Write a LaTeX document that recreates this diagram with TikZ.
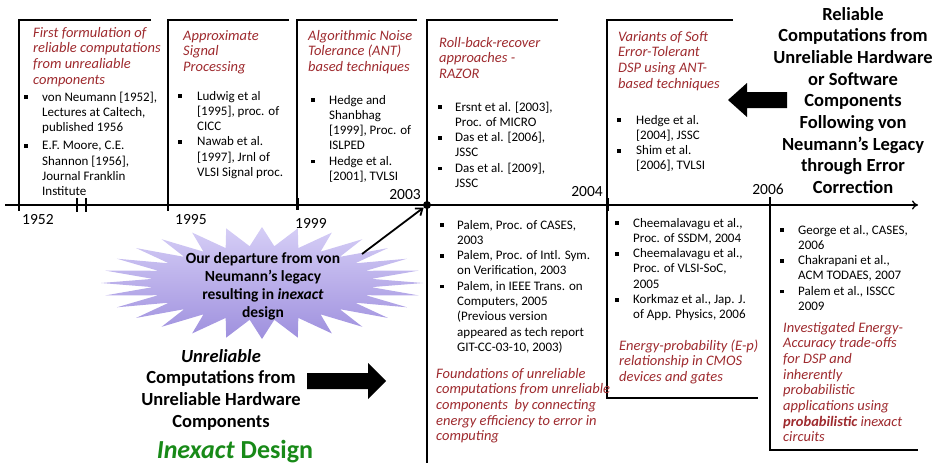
\documentclass[tikz,border=0pt]{standalone}
\usepackage{fontspec}
\setmainfont{Carlito}
\usetikzlibrary{arrows.meta}

\definecolor{titlered}{RGB}{158,42,46}
\definecolor{designgreen}{RGB}{24,138,24}
\definecolor{burstlight}{RGB}{214,206,246}
\definecolor{burstdark}{RGB}{158,144,222}

\newcommand{\bx}{\rule[1.8pt]{3.8pt}{3.8pt}}

\tikzset{
  boxline/.style={line width=1.3pt},
  yeartext/.style={inner sep=0pt, font=\fontsize{15.5}{18}\selectfont},
  reftext/.style={anchor=base west, inner sep=0pt, font=\fontsize{13}{15.3}\selectfont},
  headtext/.style={anchor=base west, inner sep=0pt, text=titlered, font=\fontsize{14.5}{15.7}\selectfont\itshape},
  bigtext/.style={anchor=base, inner sep=0pt, font=\fontsize{18.5}{21.7}\selectfont\bfseries},
  blockarrow/.style={fill=black},
}

\begin{document}
\begin{tikzpicture}[x=1pt,y=-1pt]
    \useasboundingbox (0,0) rectangle (936,463);
    % timeline and boxes
    \draw[boxline,-{To[length=6pt,width=9pt]}](5,205)--(918,205);
    \draw[boxline](151,20)--(19,20)--(19,211);
    \draw[boxline](289,20)--(168,20)--(168,211);
    \draw[boxline](417,20)--(297,20)--(297,205);
    \draw[boxline](558,20)--(427,20)--(427,463);
    \draw[boxline](733,20)--(607,20)--(607,398)--(758,398);
    \draw[boxline](770,197)--(770,450)--(918,450);
    \draw[line width=3pt](297,198)--(297,210);
    \draw[line width=3pt](607,198)--(607,211);
    \draw[line width=1.8pt](77,198)--(77,212) (86,198)--(86,212);
    \node[circle,fill,inner sep=0pt,minimum size=8pt] (d2003) at (427,205) {};

    % years
    \node[yeartext,anchor=base west] (y1952) at (22,224) {1952};
    \node[yeartext,anchor=base west] (y1995) at (175,224) {1995};
    \node[yeartext,anchor=base west] (y1999) at (295,228) {1999};
    \node[yeartext,anchor=base east] (y2003) at (421,199) {2003};
    \node[yeartext,anchor=base east] (y2004) at (603,196) {2004};
    \node[yeartext,anchor=base] (y2006) at (768,194) {2006};

    % upper boxes
    \node[headtext] (h1952) at (33,37) {\begin{tabular}[t]{@{}l@{}}First formulation of\\ reliable computations\\ from unrealiable\\ components\end{tabular}};
    \node[reftext] (r1952) at (24,101) {\begin{tabular}[t]{@{}p{18pt}@{}l@{}}
        \bx & von Neumann [1952],\\ & Lectures at Caltech,\\ & published 1956\\[3pt]
        \bx & E.F. Moore, C.E.\\ & Shannon [1956],\\ & Journal Franklin\\ & Institute\end{tabular}};
    \node[headtext] (h1995) at (183,40) {\begin{tabular}[t]{@{}l@{}}Approximate\\ Signal\\ Processing\end{tabular}};
    \node[reftext] (r1995) at (178,100) {\begin{tabular}[t]{@{}p{19pt}@{}l@{}}
        \bx & Ludwig et al\\ & [1995], proc. of\\ & CICC\\
        \bx & Nawab et al.\\ & [1997], Jrnl of\\ & VLSI Signal proc.\end{tabular}};
    \node[headtext] (h1999) at (308,40) {\begin{tabular}[t]{@{}l@{}}Algorithmic Noise\\ Tolerance (ANT)\\ based techniques\end{tabular}};
    \node[reftext] (r1999) at (311,104) {\begin{tabular}[t]{@{}p{18pt}@{}l@{}}
        \bx & Hedge and\\ & Shanbhag\\ & [1999], Proc. of\\ & ISLPED\\
        \bx & Hedge et al.\\ & [2001], TVLSI\end{tabular}};
    \node[headtext] (h2003) at (439,47) {\begin{tabular}[t]{@{}l@{}}Roll-back-recover\\ approaches -\\ RAZOR\end{tabular}};
    \node[reftext] (r2003) at (438,111) {\begin{tabular}[t]{@{}p{17pt}@{}l@{}}
        \bx & Ersnt et al. [2003],\\ & Proc. of MICRO\\
        \bx & Das et al. [2006],\\ & JSSC\\
        \bx & Das et al. [2009],\\ & JSSC\end{tabular}};
    \node[headtext] (h2004) at (618,41) {\begin{tabular}[t]{@{}l@{}}Variants of Soft\\ Error-Tolerant\\ DSP using ANT-\\ based techniques\end{tabular}};
    \node[reftext] (r2004) at (617,124) {\begin{tabular}[t]{@{}p{19pt}@{}l@{}}
        \bx & Hedge et al.\\ & [2004], JSSC\\
        \bx & Shim et al.\\ & [2006], TVLSI\end{tabular}};

    % lower boxes
    \node[reftext] (p2003) at (440,229) {\begin{tabular}[t]{@{}p{17pt}@{}l@{}}
        \bx & Palem, Proc. of CASES,\\ & 2003\\
        \bx & Palem, Proc. of Intl. Sym.\\ & on Verification, 2003\\
        \bx & Palem, in IEEE Trans. on\\ & Computers, 2005\\ & (Previous version\\ & appeared as tech report\\ & GIT-CC-03-10, 2003)\end{tabular}};
    \node[headtext] (f2003) at (436,378) {\begin{tabular}[t]{@{}l@{}}Foundations of unreliable\\ computations from unreliable\\ components\ \ by connecting\\ energy efficiency to error in\\ computing\end{tabular}};
    \node[reftext] (p2004) at (615,227) {\begin{tabular}[t]{@{}p{18pt}@{}l@{}}
        \bx & Cheemalavagu et al.,\\ & Proc. of SSDM, 2004\\
        \bx & Cheemalavagu et al.,\\ & Proc. of VLSI-SoC,\\ & 2005\\
        \bx & Korkmaz et al., Jap. J.\\ & of App. Physics, 2006\end{tabular}};
    \node[headtext] (f2004) at (619,350) {\begin{tabular}[t]{@{}l@{}}Energy-probability (E-p)\\ relationship in CMOS\\ devices and gates\end{tabular}};
    \node[reftext] (p2006) at (780,234) {\begin{tabular}[t]{@{}p{18pt}@{}l@{}}
        \bx & George et al., CASES,\\ & 2006\\
        \bx & Chakrapani et al.,\\ & ACM TODAES, 2007\\
        \bx & Palem et al., ISSCC\\ & 2009\end{tabular}};
    \node[headtext] (f2006) at (783,332) {\begin{tabular}[t]{@{}l@{}}Investigated Energy-\\ Accuracy trade-offs\\ for DSP and\\ inherently\\ probabilistic\\ applications using\\ \textbf{probabilistic} inexact\\ circuits\end{tabular}};

    % right side: von Neumann's legacy
    \node[bigtext] (legacy) at (853,20) {\begin{tabular}[t]{@{}c@{}}Reliable\\ Computations from\\ Unreliable Hardware\\ or Software\\ Components\\ Following von\\ Neumann’s Legacy\\ through Error\\ Correction\end{tabular}};
    \fill[blockarrow](787,92)--(747,92)--(747,83)--(728,100)--(747,117)--(747,108)--(787,108)--cycle;

    % burst
    \shade[top color=burstlight,bottom color=burstdark] plot[samples=57,domain=0:360,variable=\t]
        ({262+ifthenelse(mod(round(\t/6.42857),2)==0,161,110)*cos(\t)},{283+ifthenelse(mod(round(\t/6.42857),2)==0,56,37)*sin(\t)})--cycle;
    \node[anchor=base,inner sep=0pt,font=\fontsize{15.5}{18.3}\selectfont\bfseries] (burst) at (263,263)
        {\begin{tabular}[t]{@{}c@{}}Our departure from von\\ Neumann’s legacy\\ resulting in \textit{inexact}\\ design\end{tabular}};
    \coordinate (burstend) at (362,254);
    \draw[line width=1.8pt,-{Straight Barb[length=6pt,width=9pt]}](burstend)--(d2003);

    % lower left: inexact design
    \node[bigtext] (unrel) at (221,362) {\begin{tabular}[t]{@{}c@{}}\textit{Unreliable}\\ Computations from\\ Unreliable Hardware\\ Components\end{tabular}};
    \fill[blockarrow](307,373)--(368,373)--(368,363)--(386,381)--(368,399)--(368,389)--(307,389)--cycle;
    \node[anchor=base,inner sep=0pt,text=designgreen,font=\fontsize{26}{30}\selectfont\bfseries] (inexact) at (235,458) {\textit{Inexact} Design};
\end{tikzpicture}
\end{document}
